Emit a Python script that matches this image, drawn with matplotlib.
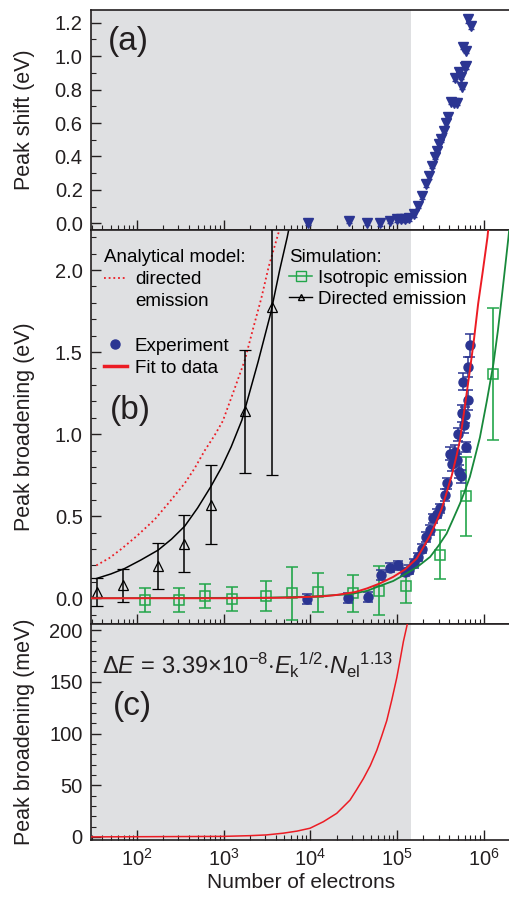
import matplotlib.pyplot as plt
from matplotlib.lines import Line2D
from matplotlib.ticker import LogLocator, MultipleLocator, FormatStrFormatter, NullFormatter

# 字体: Helvetica 风格
plt.rcParams['font.family'] = ['Liberation Sans', 'DejaVu Sans']
plt.rcParams['mathtext.fontset'] = 'custom'
plt.rcParams['mathtext.rm'] = 'Liberation Sans'
plt.rcParams['mathtext.it'] = 'Liberation Sans:italic'
plt.rcParams['mathtext.bf'] = 'Liberation Sans:bold'

NAVY = '#2b3592'
RED = '#ec1c24'
GREEN_PT = '#22a64a'
GREEN_LN = '#18893b'
SHADE = '#dfe0e2'
TXT = '#231f20'

SHADE_END = 1.43e5

# (a) peak shift
shift_n = [9.3e3, 2.75e4, 4.55e4, 6.4e4, 8.2e4, 9.9e4, 1.1e5, 1.23e5, 1.37e5, 1.57e5,
           1.76e5, 1.95e5, 2.13e5, 2.33e5, 2.5e5, 2.7e5, 2.86e5, 3.07e5, 3.24e5, 3.47e5,
           3.63e5, 3.9e5, 4.15e5, 4.53e5, 4.6e5, 4.96e5, 5.17e5, 5.5e5, 5.65e5, 5.75e5,
           6.0e5, 6.15e5, 6.3e5, 6.6e5, 7.05e5]
shift_ev = [0.004, 0.014, 0.004, 0.0, 0.016, 0.024, 0.024, 0.024, 0.03, 0.054,
            0.104, 0.163, 0.235, 0.283, 0.343, 0.399, 0.435, 0.474, 0.502, 0.554,
            0.598, 0.638, 0.728, 0.72, 0.867, 0.72, 0.907, 0.877, 0.817, 1.056,
            0.937, 1.033, 0.94, 1.22, 1.18]
shift_err = [0.015, 0.015, 0.015, 0.015, 0.015, 0.015, 0.015, 0.015, 0.015, 0.015,
             0.015, 0.015, 0.015, 0.015, 0.015, 0.015, 0.015, 0.015, 0.015, 0.015,
             0.015, 0.015, 0.015, 0.015, 0.015, 0.015, 0.015, 0.015, 0.015, 0.015,
             0.015, 0.015, 0.015, 0.02, 0.02]

# (b) experiment
exp_n = [9.2e3, 2.7e4, 4.6e4, 6.46e4, 8.3e4, 1.03e5, 1.23e5, 1.38e5, 1.57e5, 1.76e5,
         1.92e5, 2.15e5, 2.4e5, 2.6e5, 2.9e5, 3.13e5, 3.55e5, 3.72e5, 4.07e5, 4.27e5,
         4.65e5, 4.86e5, 5.07e5, 5.1e5, 5.38e5, 5.56e5, 5.8e5, 5.9e5, 6.0e5, 6.3e5,
         6.5e5, 6.6e5, 6.9e5]
exp_b = [-0.005, 0.004, 0.006, 0.14, 0.187, 0.20, 0.16, 0.175, 0.212, 0.252,
         0.303, 0.374, 0.415, 0.486, 0.516, 0.547, 0.628, 0.70, 0.882, 0.817,
         0.892, 0.841, 1.0, 0.77, 0.744, 1.126, 1.32, 1.055, 1.116, 0.92,
         1.41, 1.21, 1.543]
exp_err = [0.03, 0.03, 0.03, 0.03, 0.025, 0.025, 0.025, 0.025, 0.025, 0.025,
           0.03, 0.03, 0.03, 0.03, 0.03, 0.03, 0.035, 0.035, 0.04, 0.04,
           0.04, 0.04, 0.04, 0.04, 0.04, 0.05, 0.05, 0.05, 0.05, 0.03,
           0.06, 0.06, 0.07]

# (b) fit to data
fit_n = [30, 1e3, 5e3, 9.3e3, 1.5e4, 2e4, 3.3e4, 4.5e4, 6.3e4, 9e4,
         1.23e5, 1.68e5, 2e5, 2.4e5, 2.8e5, 3.27e5, 3.7e5, 4.27e5, 4.8e5, 5.3e5,
         6e5, 6.9e5, 7.7e5, 8.6e5, 9.7e5, 1.1e6, 1.2e6]
fit_b = [0.0, 0.0, 0.003, 0.008, 0.013, 0.02, 0.038, 0.06, 0.09, 0.13,
         0.175, 0.242, 0.31, 0.384, 0.46, 0.547, 0.64, 0.75, 0.86, 0.963,
         1.16, 1.39, 1.58, 1.797, 1.99, 2.2, 2.4]

# (b) simulation, isotropic emission
iso_n = [124, 308, 614, 1.23e3, 3.1e3, 6.2e3, 1.23e4, 3.1e4, 6.2e4, 1.26e5,
         3.13e5, 6.2e5, 1.26e6]
iso_b = [-0.008, -0.012, 0.014, -0.006, 0.012, 0.029, 0.035, 0.029, 0.045, 0.073,
         0.266, 0.622, 1.366]
iso_err = [0.073, 0.073, 0.074, 0.074, 0.09, 0.16, 0.12, 0.11, 0.15, 0.10,
           0.15, 0.24, 0.40]
iso_fit_n = [30, 3e3, 1e4, 2.9e4, 4.5e4, 6.3e4, 9e4, 1.18e5, 1.7e5, 2.4e5,
             3e5, 3.72e5, 4.4e5, 5.3e5, 6e5, 6.9e5, 7.8e5, 9e5, 1.08e6, 1.29e6,
             1.45e6, 1.61e6, 1.76e6, 1.92e6, 2.1e6]
iso_fit_b = [0.0, 0.003, 0.01, 0.025, 0.045, 0.075, 0.105, 0.14, 0.19, 0.252,
             0.32, 0.394, 0.48, 0.577, 0.65, 0.74, 0.85, 0.98, 1.2, 1.43,
             1.63, 1.837, 2.02, 2.2, 2.4]

# (b) simulation, directed emission
dir_n = [34.8, 69.5, 173, 351, 713, 1.76e3, 3.6e3]
dir_b = [0.038, 0.079, 0.197, 0.333, 0.571, 1.14, 1.774]
dir_err = [0.085, 0.10, 0.14, 0.175, 0.24, 0.375, 1.02]
dir_fit_n = [34, 50, 72, 110, 175, 250, 355, 500, 708, 950,
             1.22e3, 1.62e3, 2.49e3, 3.48e3, 4.42e3, 5.4e3, 6e3]
dir_fit_b = [0.12, 0.148, 0.181, 0.232, 0.293, 0.36, 0.439, 0.55, 0.679, 0.80,
             0.923, 1.085, 1.44, 1.736, 2.0, 2.2, 2.32]

# (b) analytical model, directed emission
ana_n = [34, 48, 66, 100, 160, 240, 355, 460, 604, 780,
         977, 1.3e3, 1.75e3, 2.2e3, 2.72e3, 3.3e3, 4.04e3, 4.7e3]
ana_b = [0.20, 0.245, 0.30, 0.38, 0.48, 0.59, 0.70, 0.79, 0.90, 0.99,
         1.08, 1.26, 1.45, 1.65, 1.83, 2.02, 2.18, 2.30]

# (c) fitted broadening
c_n = [30, 990, 2.01e3, 3.1e3, 4.86e3, 7e3, 9.9e3, 1.41e4, 2.01e4, 2.86e4,
       3.4e4, 4.08e4, 4.9e4, 5.82e4, 6.6e4, 7.59e4, 8.7e4, 9.9e4, 1.08e5, 1.18e5,
       1.31e5, 1.36e5]
c_mev = [0.0, 0.5, 1.2, 1.9, 3.6, 5.6, 8.4, 14.7, 22.8, 35.6,
         45.5, 56.4, 69, 83.7, 97, 112.5, 133, 154, 171, 189,
         206, 215]

FIG_W, FIG_H = 509, 898
fig = plt.figure(figsize=(FIG_W / 100, FIG_H / 100), dpi=100)
left = 91 / FIG_W
width = 421 / FIG_W
ax_a = fig.add_axes([left, 1 - 230 / FIG_H, width, 220 / FIG_H])
ax_b = fig.add_axes([left, 1 - 624 / FIG_H, width, 394 / FIG_H], sharex=ax_a)
ax_c = fig.add_axes([left, 1 - 840 / FIG_H, width, 216 / FIG_H], sharex=ax_a)

for ax in (ax_a, ax_b, ax_c):
    ax.set_xscale('log')
    ax.axvspan(1, SHADE_END, color=SHADE, lw=0, zorder=0)
    ax.tick_params(which='both', direction='in', top=False, right=False,
                   labelsize=14.5, colors=TXT, pad=6)
    ax.tick_params(which='major', length=7, width=1)
    ax.tick_params(which='minor', length=3.5, width=0.8)
    ax.xaxis.set_minor_locator(LogLocator(base=10, subs=[2, 3, 4, 5, 6, 7, 8, 9], numticks=50))
    ax.xaxis.set_minor_formatter(NullFormatter())
    for s in ax.spines.values():
        s.set_linewidth(1.2)
        s.set_color(TXT)
    ax.yaxis.set_label_coords(-0.133, 0.5)

ax_a.set_xlim(29.5, 2.11e6)
ax_a.tick_params(labelbottom=False)
ax_b.tick_params(labelbottom=False)

# (a)
ax_a.errorbar(shift_n, shift_ev, yerr=shift_err, fmt='v', color=NAVY, ms=7,
              capsize=2.5, elinewidth=1, capthick=1, zorder=3)
ax_a.set_ylim(-0.04, 1.276)
ax_a.yaxis.set_major_locator(MultipleLocator(0.2))
ax_a.yaxis.set_minor_locator(MultipleLocator(0.1))
ax_a.yaxis.set_major_formatter(FormatStrFormatter('%.1f'))
ax_a.set_ylabel('Peak shift (eV)', fontsize=15.5, color=TXT)
ax_a.text(0.088, 0.855, '(a)', transform=ax_a.transAxes, fontsize=24,
          ha='center', va='center', color=TXT)

# (b)
ax_b.plot(ana_n, ana_b, ls=(0, (1, 1.6)), color=RED, lw=1.3, zorder=2)
ax_b.plot(dir_fit_n, dir_fit_b, color='black', lw=1.1, zorder=2)
ax_b.errorbar(dir_n, dir_b, yerr=dir_err, fmt='^', mfc='none', mec='black', ecolor='black',
              ms=6.5, mew=0.9, capsize=4, elinewidth=1.1, capthick=1.1, zorder=3)
ax_b.errorbar(iso_n, iso_b, yerr=iso_err, fmt='s', mfc='none', mec=GREEN_PT, ecolor=GREEN_PT,
              ms=6.5, mew=1.1, capsize=4, elinewidth=1.2, capthick=1.2, zorder=3)
ax_b.errorbar(exp_n, exp_b, yerr=exp_err, fmt='o', color=NAVY, ms=6.5,
              capsize=3.5, elinewidth=1.1, capthick=1.1, zorder=3)
ax_b.plot(iso_fit_n, iso_fit_b, color=GREEN_LN, lw=1.3, zorder=4)
ax_b.plot(fit_n, fit_b, color=RED, lw=1.4, zorder=4)
ax_b.set_ylim(-0.157, 2.244)
ax_b.yaxis.set_major_locator(MultipleLocator(0.5))
ax_b.yaxis.set_minor_locator(MultipleLocator(0.1))
ax_b.yaxis.set_major_formatter(FormatStrFormatter('%.1f'))
ax_b.set_ylabel('Peak broadening (eV)', fontsize=15.5, color=TXT)
ax_b.text(0.093, 0.543, '(b)', transform=ax_b.transAxes, fontsize=24,
          ha='center', va='center', color=TXT)

blank = Line2D([], [], ls='none')
left_handles = [Line2D([], [], ls=(0, (1, 1.6)), color=RED, lw=1.3), blank, blank,
                Line2D([], [], ls='none', marker='o', color=NAVY, ms=6.5),
                Line2D([], [], color=RED, lw=2.5)]
left_labels = ['directed', 'emission', '', 'Experiment', 'Fit to data']
leg1 = ax_b.legend(left_handles, left_labels, title='Analytical model:', loc='upper left',
                   bbox_to_anchor=(0.031, 0.952), frameon=False, fontsize=13.5,
                   title_fontsize=13.5, handlelength=1.2, handletextpad=0.45,
                   labelspacing=0.27, borderpad=0, borderaxespad=0, alignment='left')
ax_b.add_artist(leg1)
right_handles = [Line2D([], [], color=GREEN_PT, marker='s', mfc='none', ms=6.5, lw=1.1),
                 Line2D([], [], color='black', marker='^', mfc='none', ms=5, lw=1.0)]
ax_b.legend(right_handles, ['Isotropic emission', 'Directed emission'], title='Simulation:',
            loc='upper left', bbox_to_anchor=(0.471, 0.952), frameon=False, fontsize=13.5,
            title_fontsize=13.5, handlelength=1.2, handletextpad=0.32,
            labelspacing=0.2, borderpad=0, borderaxespad=0, alignment='left')

# (c)
ax_c.plot(c_n, c_mev, color=RED, lw=1.1, zorder=3)
ax_c.set_ylim(-3, 206)
ax_c.yaxis.set_major_locator(MultipleLocator(50))
ax_c.yaxis.set_minor_locator(MultipleLocator(10))
ax_c.set_ylabel('Peak broadening (meV)', fontsize=15.5, color=TXT)
ax_c.set_xlabel('Number of electrons', fontsize=15, color=TXT, labelpad=2)
ax_c.text(0.0255, 0.81,
          r'$\Delta E\,=\,3.39{\times}10^{-8}{\cdot}E_{\mathrm{k}}{}^{1/2}{\cdot}N_{\mathrm{el}}{}^{1.13}$',
          transform=ax_c.transAxes, fontsize=17, ha='left', va='center', color=TXT)
ax_c.text(0.0976, 0.62, '(c)', transform=ax_c.transAxes, fontsize=24,
          ha='center', va='center', color=TXT)
ax_c.set_xlim(29.5, 2.11e6)

fig.savefig('out.png', dpi=100)
